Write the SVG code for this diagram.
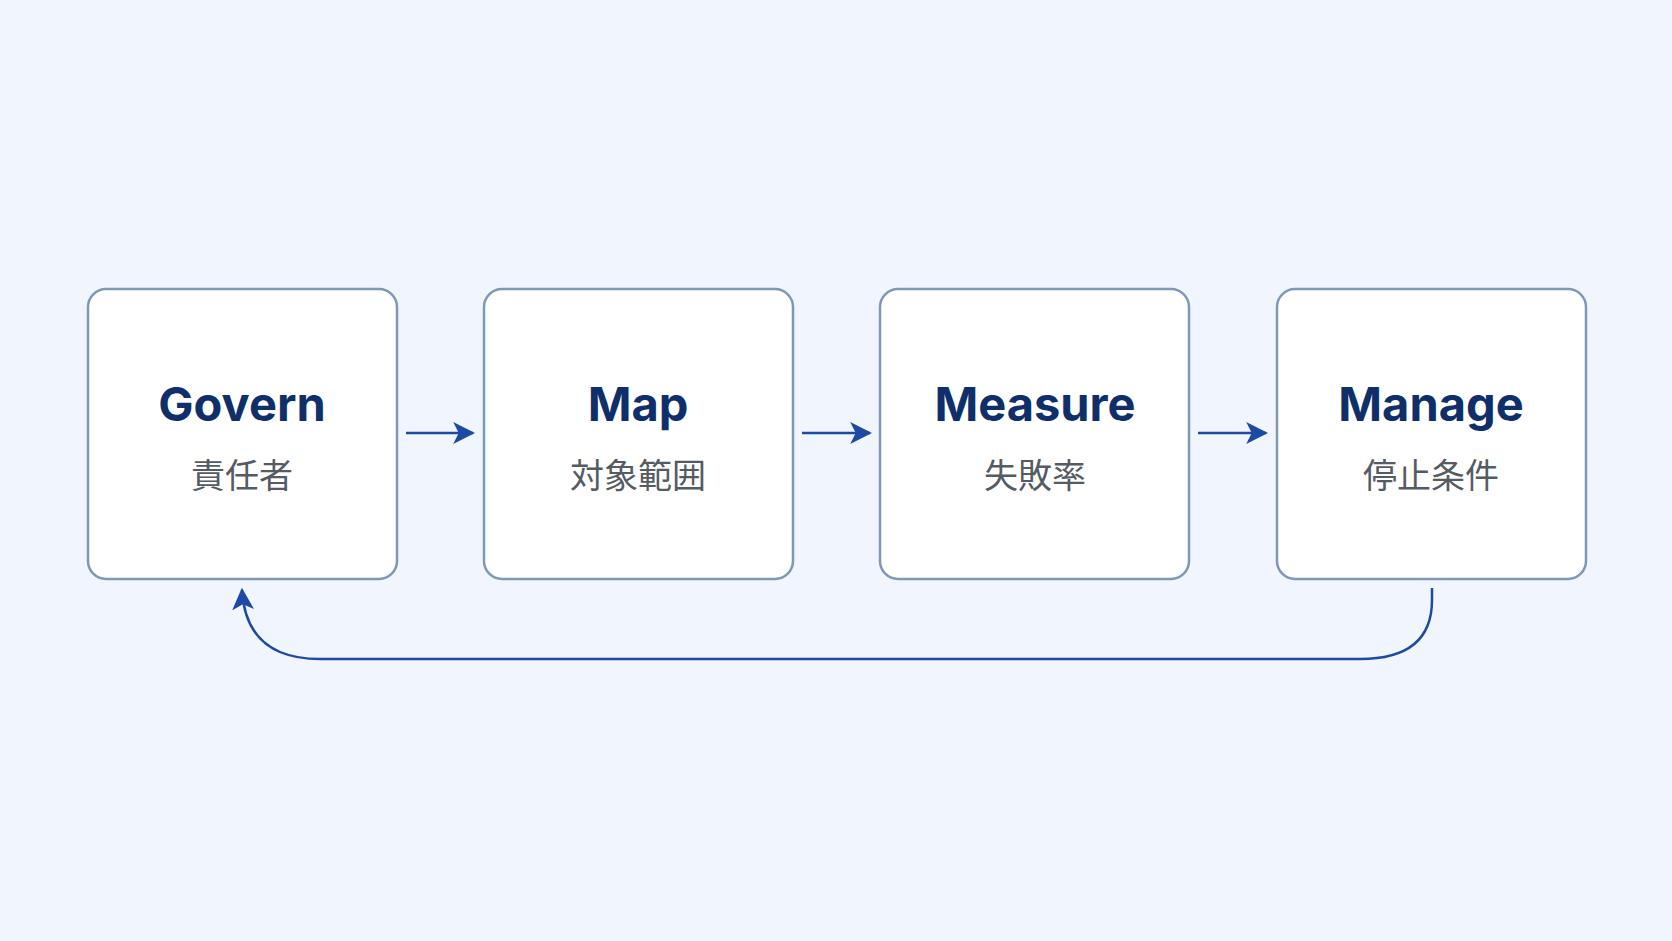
<svg xmlns="http://www.w3.org/2000/svg" width="1672" height="941" viewBox="0 0 1672 941">
<style>
.box{fill:#ffffff;stroke:#7f98b8;stroke-width:2.5}
.t{font-family:Inter,"Noto Sans",sans-serif;font-weight:700;font-size:47px;fill:#0f2f6b;text-anchor:middle}
.s{font-family:"Noto Sans CJK JP",sans-serif;font-size:34px;fill:#555b63;text-anchor:middle}
.c{fill:none;stroke:#1d4aa3;stroke-width:2.5}
</style>
<defs>
<marker id="b" viewBox="0 0 10 10" refX="9" refY="5" markerWidth="22" markerHeight="22" markerUnits="userSpaceOnUse" orient="auto"><path d="M0,0 L10,5 L0,10 L2.5,5 Z" fill="#1d4aa3"/></marker></defs>
<rect width="1672" height="941" fill="#f1f5fd"/>
<g id="govern"><rect class="box" x="88" y="289" width="309" height="290" rx="18"/><text class="t" x="242" y="421">Govern</text><text class="s" x="242" y="488">責任者</text></g>
<g id="map"><rect class="box" x="484" y="289" width="309" height="290" rx="18"/><text class="t" x="638" y="421">Map</text><text class="s" x="638" y="488">対象範囲</text></g>
<g id="measure"><rect class="box" x="880" y="289" width="309" height="290" rx="18"/><text class="t" x="1035" y="421">Measure</text><text class="s" x="1035" y="488">失敗率</text></g>
<g id="manage"><rect class="box" x="1277" y="289" width="309" height="290" rx="18"/><text class="t" x="1431" y="421">Manage</text><text class="s" x="1431" y="488">停止条件</text></g>
<g id="connectors">
<line class="c" x1="406" y1="433" x2="473" y2="433" marker-end="url(#b)"/>
<line class="c" x1="802" y1="433" x2="870" y2="433" marker-end="url(#b)"/>
<line class="c" x1="1198" y1="433" x2="1266" y2="433" marker-end="url(#b)"/>
<path class="c" d="M1432,588 L1432,600 Q1432,659 1360,659 L320,659 Q246,659 242,590" marker-end="url(#b)"/>
</g>
</svg>
